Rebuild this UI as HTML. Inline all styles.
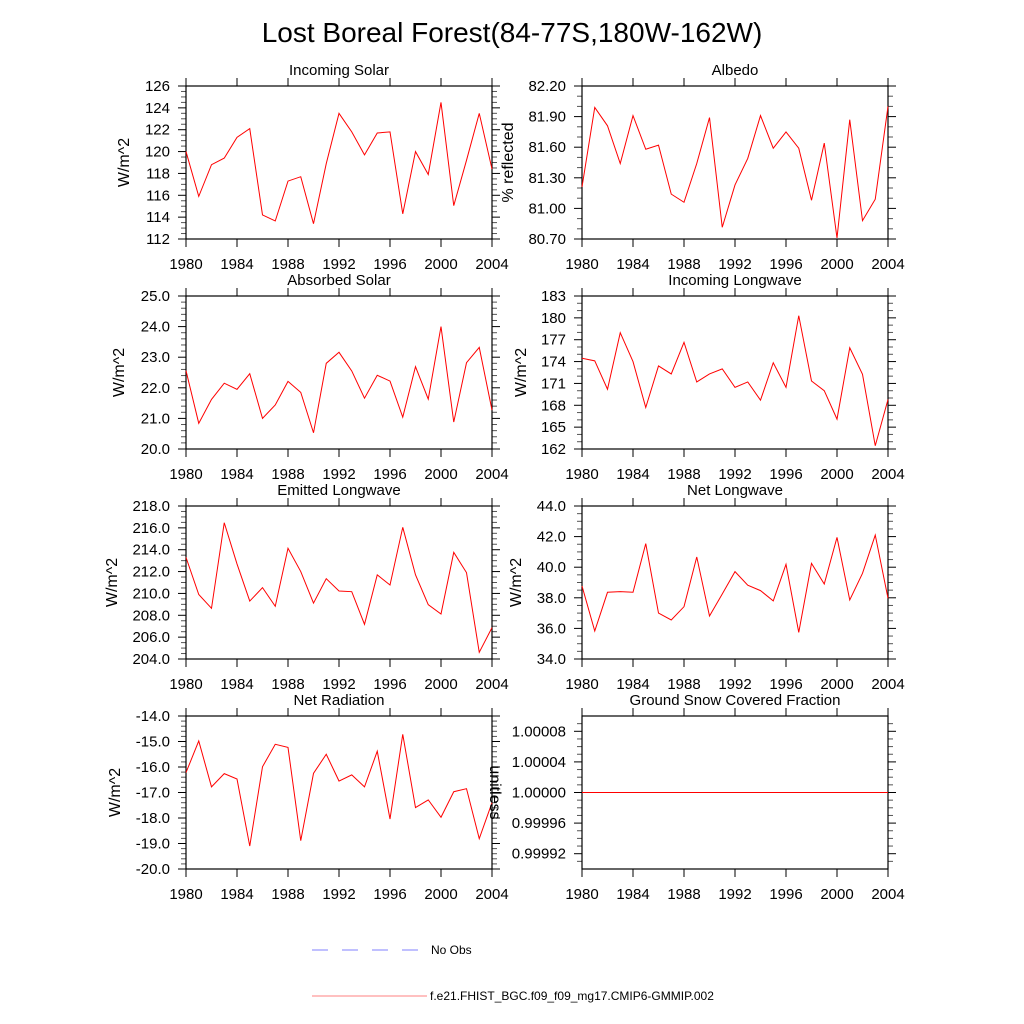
<!DOCTYPE html>
<html><head><meta charset="utf-8"><style>
html,body{margin:0;padding:0;background:#fff;}
svg{display:block;font-family:"Liberation Sans",Arial,sans-serif;}
</style></head><body>
<svg id="fig" width="1024" height="1024" viewBox="0 0 1024 1024" xmlns="http://www.w3.org/2000/svg">
<rect width="1024" height="1024" fill="#fff"/>
<text x="512" y="42" font-size="28" text-anchor="middle">Lost Boreal Forest(84-77S,180W-162W)</text>
<g id="panels"></g>
<g>
<line x1="312" y1="950" x2="420" y2="950" stroke="#8080ff" stroke-width="1" stroke-dasharray="16,14"/>
<text x="431" y="954" font-size="12">No Obs</text>
<line x1="312" y1="996" x2="427" y2="996" stroke="#ff8080" stroke-width="1"/>
<text x="430" y="1000" font-size="12">f.e21.FHIST_BGC.f09_f09_mg17.CMIP6-GMMIP.002</text>
</g>
</svg>
<script>
const years = [1980,1981,1982,1983,1984,1985,1986,1987,1988,1989,1990,1991,1992,1993,1994,1995,1996,1997,1998,1999,2000,2001,2002,2003,2004];
const xTicks = [1980,1984,1988,1992,1996,2000,2004];
const incomingSolar = [120.0,115.9,118.8,119.4,121.3,122.1,114.2,113.65,117.3,117.7,113.4,118.9,123.5,121.8,119.7,121.7,121.8,114.3,120.0,117.9,124.5,115.05,119.2,123.5,118.4];
const albedo = [81.21,81.99,81.81,81.44,81.91,81.58,81.62,81.14,81.06,81.44,81.89,80.815,81.23,81.49,81.91,81.59,81.75,81.59,81.08,81.64,80.71,81.87,80.88,81.09,82.0];
const absorbedSolar = [22.56,20.84,21.62,22.15,21.95,22.46,21.0,21.44,22.21,21.85,20.53,22.8,23.16,22.55,21.66,22.41,22.22,21.04,22.69,21.63,24.0,20.88,22.82,23.32,21.27];
const incomingLW = [174.45,174.1,170.2,177.96,174.0,167.7,173.4,172.3,176.64,171.2,172.3,173.0,170.46,171.2,168.7,173.84,170.46,180.3,171.33,170.0,166.1,175.9,172.25,162.45,168.8];
const emittedLW = [213.3,209.9,208.64,216.47,212.7,209.3,210.53,208.82,214.13,212.0,209.12,211.35,210.22,210.16,207.17,211.7,210.77,216.05,211.7,208.97,208.12,213.76,211.9,204.61,206.87];
const netLW = [38.77,35.83,38.36,38.4,38.36,41.54,37.0,36.55,37.42,40.67,36.81,38.25,39.71,38.82,38.47,37.8,40.19,35.74,40.25,38.9,41.95,37.86,39.6,42.1,37.97];
const netRad = [-16.22,-14.98,-16.78,-16.26,-16.47,-19.1,-15.99,-15.11,-15.23,-18.89,-16.25,-15.5,-16.55,-16.31,-16.78,-15.38,-18.04,-14.72,-17.59,-17.29,-17.97,-16.97,-16.85,-18.81,-17.4];
const snowFrac = [1,1,1,1,1,1,1,1,1,1,1,1,1,1,1,1,1,1,1,1,1,1,1,1,1];

const ticksIS = ["112","114","116","118","120","122","124","126"];
const ticksAlb = ["80.70","81.00","81.30","81.60","81.90","82.20"];
const ticksAbs = ["20.0","21.0","22.0","23.0","24.0","25.0"];
const ticksILW = ["162","165","168","171","174","177","180","183"];
const ticksELW = ["204.0","206.0","208.0","210.0","212.0","214.0","216.0","218.0"];
const ticksNLW = ["34.0","36.0","38.0","40.0","42.0","44.0"];
const ticksNR = ["-20.0","-19.0","-18.0","-17.0","-16.0","-15.0","-14.0"];
const ticksSnow = ["0.99992","0.99996","1.00000","1.00004","1.00008"];

const NS='http://www.w3.org/2000/svg';
const root=document.getElementById('panels');
function mk(tag,attrs,parent){const e=document.createElementNS(NS,tag);for(const k in attrs)e.setAttribute(k,attrs[k]);(parent||root).appendChild(e);return e;}

const panels=[
 {name:'incoming-solar',title:'Incoming Solar',yt:'W/m^2',data:incomingSolar,ticks:ticksIS,min:112,max:126,minor:4,x:186,y:86,ytx:125,rot:-90},
 {name:'albedo',title:'Albedo',yt:'% reflected',data:albedo,ticks:ticksAlb,min:80.7,max:82.2,minor:3,x:582,y:86,ytx:509,rot:-90},
 {name:'absorbed-solar',title:'Absorbed Solar',yt:'W/m^2',data:absorbedSolar,ticks:ticksAbs,min:20,max:25,minor:5,x:186,y:296,ytx:120,rot:-90},
 {name:'incoming-longwave',title:'Incoming Longwave',yt:'W/m^2',data:incomingLW,ticks:ticksILW,min:162,max:183,minor:3,x:582,y:296,ytx:522,rot:-90},
 {name:'emitted-longwave',title:'Emitted Longwave',yt:'W/m^2',data:emittedLW,ticks:ticksELW,min:204,max:218,minor:4,x:186,y:506,ytx:113,rot:-90},
 {name:'net-longwave',title:'Net Longwave',yt:'W/m^2',data:netLW,ticks:ticksNLW,min:34,max:44,minor:4,x:582,y:506,ytx:517,rot:-90},
 {name:'net-radiation',title:'Net Radiation',yt:'W/m^2',data:netRad,ticks:ticksNR,min:-20,max:-14,minor:5,x:186,y:716,ytx:116,rot:-90},
 {name:'ground-snow-fraction',title:'Ground Snow Covered Fraction',yt:'unitless',data:snowFrac,ticks:ticksSnow,min:0.9999,max:1.0001,minor:4,x:582,y:716,ytx:494,rot:90}
];
const W=306,H=153;
panels.forEach(p=>{
 const g=mk('g',{});
 
 
 const xs=v=>p.x+(v-1980)/(2004-1980)*W;
 const ys=v=>p.y+H-(v-p.min)/(p.max-p.min)*H;
 const t=mk('text',{x:p.x+W/2,y:p.y-11,'font-size':15,'text-anchor':'middle'},g);
 t.textContent=p.title;
 
 
 const yt=mk('text',{x:p.ytx,y:p.y+H/2,'font-size':16,'text-anchor':'middle',transform:`rotate(${p.rot} ${p.ytx} ${p.y+H/2})`,'dominant-baseline':'middle'},g);
 yt.textContent=p.yt;
 
 
 const vals=p.ticks.map(Number);
 for(let i=0;i<vals.length;i++){
  const yy=ys(vals[i]);
  mk('line',{x1:p.x-8,y1:yy,x2:p.x,y2:yy,stroke:'#000'},g);
  mk('line',{x1:p.x+W,y1:yy,x2:p.x+W+8,y2:yy,stroke:'#000'},g);
  const lb=mk('text',{x:p.x-16,y:yy+5,'font-size':15,'text-anchor':'end'},g);
  lb.textContent=p.ticks[i];
  
  
  if(i<vals.length-1){
   for(let k=1;k<p.minor;k++){
    const my=ys(vals[i]+(vals[i+1]-vals[i])*k/p.minor);
    mk('line',{x1:p.x-5,y1:my,x2:p.x,y2:my,stroke:'#555'},g);
    mk('line',{x1:p.x+W,y1:my,x2:p.x+W+5,y2:my,stroke:'#555'},g);
   }
  }
 }
 const step=vals[1]-vals[0];
 for(let k=1;k<=p.minor*2;k++){
  const lo=vals[0]-step*k/p.minor, hi=vals[vals.length-1]+step*k/p.minor;
  [lo,hi].forEach(v=>{if(v>p.min+1e-12&&v<p.max-1e-12){const my=ys(v);
   mk('line',{x1:p.x-5,y1:my,x2:p.x,y2:my,stroke:'#555'},g);
   mk('line',{x1:p.x+W,y1:my,x2:p.x+W+5,y2:my,stroke:'#555'},g);}});
 }
 xTicks.forEach(yr=>{
  const xx=xs(yr);
  mk('line',{x1:xx,y1:p.y+H,x2:xx,y2:p.y+H+8,stroke:'#000'},g);
  mk('line',{x1:xx,y1:p.y-8,x2:xx,y2:p.y,stroke:'#000'},g);
  const lb=mk('text',{x:xx,y:p.y+H+30,'font-size':15,'text-anchor':'middle'},g);
  lb.textContent=yr;
  
  
 });
 const fr=mk('rect',{x:p.x,y:p.y,width:W,height:H,fill:'none',stroke:'#000','stroke-width':1.2},g);
 
 
 const pts=p.data.map((v,i)=>xs(years[i]).toFixed(2)+','+ys(v).toFixed(2)).join(' ');
 const ln=mk('polyline',{points:pts,fill:'none',stroke:'#ff0000','stroke-width':1},g);
 
 
});
</script>
</body></html>
